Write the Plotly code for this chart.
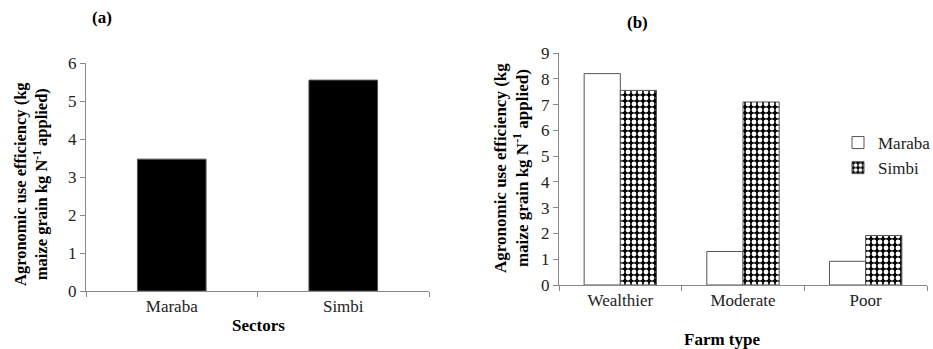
import plotly.graph_objects as go

# Panel (a)
sectors = ["Maraba", "Simbi"]
aue_sector = [3.47, 5.55]

# Panel (b)
farm_types = ["Wealthier", "Moderate", "Poor"]
maraba_vals = [8.2, 1.3, 0.92]
simbi_vals = [7.55, 7.1, 1.92]

W, H = 933, 349
FONT = "Times New Roman, Liberation Serif, DejaVu Serif, serif"

def px(x):
    return x / W

def py(y):
    return 1 - y / H

fig = go.Figure()

fig.add_trace(go.Bar(x=sectors, y=aue_sector, xaxis="x", yaxis="y",
                     marker=dict(color="black", line=dict(color="#555", width=1)),
                     showlegend=False, width=0.4))

fig.add_trace(go.Bar(x=farm_types, y=maraba_vals, name="Maraba", xaxis="x2", yaxis="y2",
                     marker=dict(color="white", line=dict(color="#555", width=1))))
fig.add_trace(go.Bar(x=farm_types, y=simbi_vals, name="Simbi", xaxis="x2", yaxis="y2",
                     marker=dict(color="black", line=dict(color="#555", width=1),
                                 pattern=dict(shape=".", fgcolor="white", bgcolor="black",
                                              size=6, solidity=0.5, fillmode="replace"))))

axis_common = dict(showline=True, linecolor="#888", linewidth=1, ticks="outside",
                   tickcolor="#888", ticklen=5, showgrid=False, zeroline=False,
                   tickfont=dict(family=FONT, size=17, color="#222"))

fig.update_layout(
    width=W, height=H, margin=dict(l=0, r=0, t=0, b=0, autoexpand=False),
    paper_bgcolor="white", plot_bgcolor="white",
    barmode="group", bargap=0.41, bargroupgap=0,
    font=dict(family=FONT),
    xaxis=dict(domain=[px(86), px(429)], anchor="y", type="category",
               tickson="boundaries", **axis_common),
    yaxis=dict(domain=[py(291), py(63)], anchor="x", range=[0, 6], dtick=1, **axis_common),
    xaxis2=dict(domain=[px(559), px(927)], anchor="y2", type="category",
                tickson="boundaries", **axis_common),
    yaxis2=dict(domain=[py(285), py(53)], anchor="x2", range=[0, 9], dtick=1, **axis_common),
    legend=dict(x=px(838), y=py(125), xanchor="left", yanchor="top",
                font=dict(family=FONT, size=17, color="#222"),
                bgcolor="rgba(0,0,0,0)", itemwidth=30, tracegroupgap=0),
    showlegend=True,
)

ytitle = "Agronomic use efficiency (kg<br>maize grain kg N<sup>-1</sup> applied)"
ann = [
    dict(x=px(31), y=py(184), text=ytitle, textangle=-90, size=16.5),
    dict(x=px(512), y=py(168), text=ytitle, textangle=-90, size=17),
    dict(x=px(258), y=py(325), text="Sectors", size=17),
    dict(x=px(722), y=py(339), text="Farm type", size=17),
    dict(x=px(102), y=py(17), text="(a)", size=17),
    dict(x=px(637), y=py(23), text="(b)", size=17),
]
fig.update_layout(annotations=[
    dict(xref="paper", yref="paper", showarrow=False, xanchor="center", yanchor="middle",
         font=dict(family=FONT, size=a["size"], color="black"),
         x=a["x"], y=a["y"], textangle=a.get("textangle", 0),
         text="<b>" + a["text"] + "</b>")
    for a in ann
])

fig.write_html("out.html", config={"displayModeBar": False},
               post_script="document.body.style.margin='0';document.body.style.overflow='hidden';")
